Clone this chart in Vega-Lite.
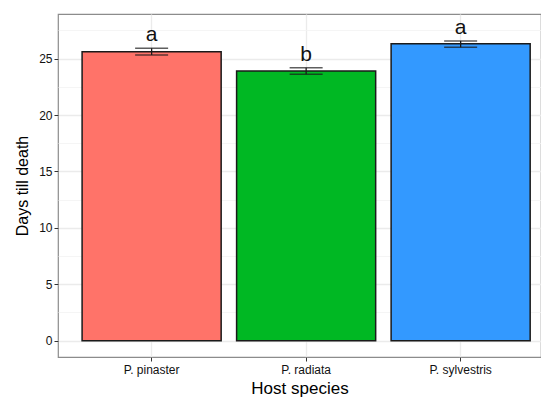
{
  "$schema": "https://vega.github.io/schema/vega-lite/v6.json",
  "width": 483,
  "height": 343,
  "autosize": "none",
  "padding": {"left": 58, "top": 14, "right": 0, "bottom": 41},
  "background": "white",
  "config": {
    "view": {"stroke": "#8c8c8c", "strokeWidth": 1.2},
    "font": "Liberation Sans"
  },
  "data": {
    "values": [
      {"species": "P. pinaster", "mean": 25.62, "lower": 25.33, "upper": 25.92, "letter": "a"},
      {"species": "P. radiata", "mean": 23.91, "lower": 23.62, "upper": 24.2, "letter": "b"},
      {"species": "P. sylvestris", "mean": 26.33, "lower": 26.01, "upper": 26.57, "letter": "a"}
    ]
  },
  "resolve": {"axis": {"y": "independent"}},
  "encoding": {
    "x": {
      "field": "species",
      "type": "nominal",
      "scale": {"paddingInner": 0.1, "paddingOuter": 0.113, "align": 0.69},
      "axis": {
        "title": "Host species",
        "titleFontSize": 17,
        "titleFontWeight": "normal",
        "titleColor": "#000000",
        "titlePadding": 5,
        "labelAngle": 0,
        "labelFontSize": 12,
        "labelColor": "#111111",
        "labelPadding": 3,
        "tickSize": 4,
        "tickColor": "#333333",
        "tickWidth": 1,
        "domain": false,
        "grid": true,
        "gridColor": "#ebebeb",
        "gridWidth": 1.3
      }
    }
  },
  "layer": [
    {
      "mark": {"type": "bar", "stroke": "#1a1a1a", "strokeWidth": 1.5},
      "encoding": {
        "y": {
          "field": "mean",
          "type": "quantitative",
          "scale": {"domain": [-1.45, 28.96], "nice": false, "zero": false},
          "axis": {
            "title": "Days till death",
            "titleFontSize": 16,
            "titleFontWeight": "normal",
            "titleColor": "#000000",
            "titlePadding": 8,
            "values": [0, 5, 10, 15, 20, 25],
            "labelFontSize": 12,
            "labelColor": "#111111",
            "labelPadding": 2,
            "tickSize": 4,
            "tickColor": "#333333",
            "domain": false,
            "grid": true,
            "gridColor": "#ebebeb",
            "gridWidth": 1.3
          }
        },
        "color": {
          "field": "species",
          "type": "nominal",
          "scale": {"range": ["#FF7369", "#00B823", "#3399FF"]},
          "legend": null
        }
      }
    },
    {
      "mark": {"type": "rule", "color": "#1a1a1a", "strokeWidth": 1.3},
      "encoding": {
        "y": {
          "field": "lower",
          "type": "quantitative",
          "axis": {
            "orient": "left",
            "title": null,
            "values": [2.5, 7.5, 12.5, 17.5, 22.5, 27.5],
            "labels": false,
            "ticks": false,
            "domain": false,
            "grid": true,
            "gridColor": "#f2f2f2",
            "gridWidth": 0.8
          }
        },
        "y2": {"field": "upper"}
      }
    },
    {
      "mark": {"type": "tick", "color": "#1a1a1a", "thickness": 1.5, "size": 33, "orient": "horizontal"},
      "encoding": {
        "y": {"field": "lower", "type": "quantitative", "axis": null}
      }
    },
    {
      "mark": {"type": "tick", "color": "#1a1a1a", "thickness": 1.5, "size": 33, "orient": "horizontal"},
      "encoding": {
        "y": {"field": "upper", "type": "quantitative", "axis": null}
      }
    },
    {
      "mark": {"type": "text", "fontSize": 21, "color": "#111111", "baseline": "alphabetic", "dy": -7},
      "encoding": {
        "y": {"field": "upper", "type": "quantitative", "axis": null},
        "text": {"field": "letter"}
      }
    }
  ]
}
